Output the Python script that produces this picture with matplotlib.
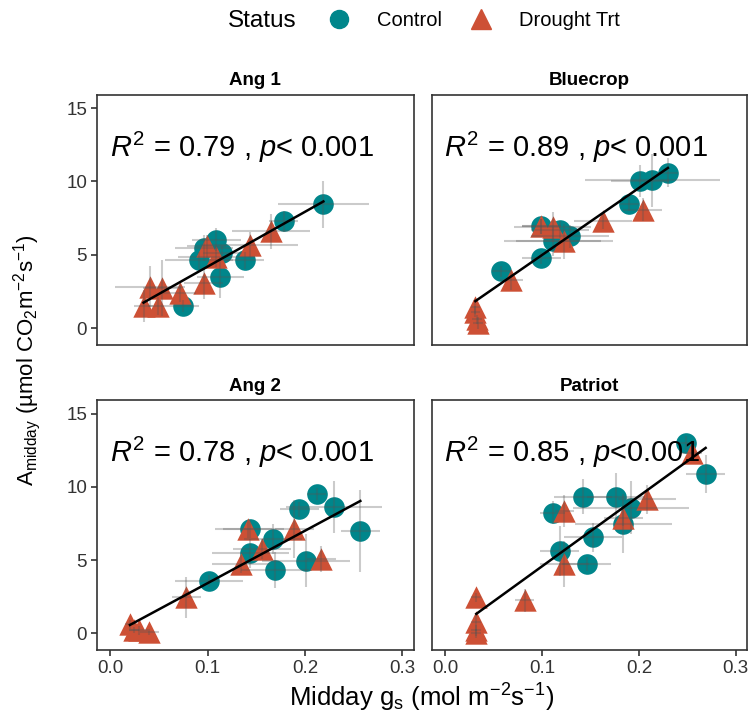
import matplotlib
matplotlib.use("Agg")
import matplotlib.pyplot as plt
from matplotlib.lines import Line2D
import numpy as np

plt.rcParams['font.family'] = ['Liberation Sans', 'DejaVu Sans']
plt.rcParams['mathtext.fontset'] = 'custom'
plt.rcParams['mathtext.rm'] = 'Liberation Sans'
plt.rcParams['mathtext.it'] = 'Liberation Sans:italic'
plt.rcParams['mathtext.bf'] = 'Liberation Sans:bold'

teal = '#00868B'
red = '#CD5035'

######## DATA ########
panels = ['Ang 1', 'Bluecrop', 'Ang 2', 'Patriot']
stats = ['$R^2$ = 0.79 , $p$< 0.001', '$R^2$ = 0.89 , $p$< 0.001',
         '$R^2$ = 0.78 , $p$< 0.001', '$R^2$ = 0.85 , $p$<0.001']

# Ang 1
ang1_ctl_x = [0.219, 0.178, 0.109, 0.096, 0.115, 0.091, 0.138, 0.113, 0.075]
ang1_ctl_y = [8.45, 7.28, 6.03, 5.46, 5.12, 4.61, 4.61, 3.45, 1.51]
ang1_ctl_xe = [0.047, 0.015, 0.025, 0.03, 0.02, 0.035, 0.02, 0.024, 0.016]
ang1_ctl_ye = [1.6, 0.7, 0.8, 0.9, 0.5, 0.6, 0.6, 1.4, 0.4]
ang1_dr_x = [0.165, 0.143, 0.099, 0.109, 0.096, 0.071, 0.041, 0.053, 0.034, 0.049]
ang1_dr_y = [6.6, 5.68, 5.57, 4.88, 3.06, 2.38, 2.83, 2.72, 1.51, 1.51]
ang1_dr_xe = [0.04, 0.05, 0.02, 0.04, 0.02, 0.017, 0.036, 0.02, 0.01, 0.01]
ang1_dr_ye = [1.2, 0.9, 0.8, 0.7, 1.1, 0.6, 1.4, 1.9, 1.1, 0.6]

# Bluecrop
blue_ctl_x = [0.230, 0.214, 0.201, 0.190, 0.118, 0.099, 0.129, 0.111, 0.099, 0.058]
blue_ctl_y = [10.6, 10.09, 10.02, 8.49, 6.71, 6.94, 6.26, 5.91, 4.77, 3.86]
blue_ctl_xe = [0.01, 0.07, 0.03, 0.01, 0.03, 0.02, 0.04, 0.05, 0.02, 0.01]
blue_ctl_ye = [1.0, 1.8, 1.1, 0.5, 0.6, 0.5, 0.8, 1.0, 0.4, 0.4]
blue_dr_x = [0.204, 0.163, 0.099, 0.111, 0.123, 0.068, 0.031, 0.031, 0.034, 0.033]
blue_dr_y = [8.08, 7.28, 6.94, 6.9, 5.91, 3.29, 1.46, 1.12, 0.32, 0.6]
blue_dr_xe = [0.02, 0.03, 0.02, 0.04, 0.05, 0.012, 0.005, 0.005, 0.005, 0.005]
blue_dr_ye = [0.8, 0.5, 0.5, 1.0, 1.2, 0.7, 0.5, 0.4, 0.4, 0.3]

# Ang 2
ang2_ctl_x = [0.212, 0.194, 0.230, 0.257, 0.143, 0.167, 0.144, 0.201, 0.169, 0.101]
ang2_ctl_y = [9.52, 8.46, 8.62, 6.99, 7.11, 6.43, 5.45, 4.96, 4.32, 3.55]
ang2_ctl_xe = [0.01, 0.02, 0.049, 0.02, 0.035, 0.03, 0.04, 0.045, 0.035, 0.035]
ang2_ctl_ye = [0.4, 0.5, 1.75, 2.8, 0.6, 1.0, 1.0, 1.8, 1.2, 0.4]
ang2_dr_x = [0.141, 0.189, 0.156, 0.134, 0.217, 0.078, 0.020, 0.029, 0.040, 0.024]
ang2_dr_y = [7.11, 7.11, 5.75, 4.73, 5.07, 2.46, 0.61, 0.2, 0.09, 0.2]
ang2_dr_xe = [0.025, 0.02, 0.03, 0.03, 0.015, 0.015, 0.005, 0.01, 0.01, 0.005]
ang2_dr_ye = [0.6, 2.0, 0.7, 0.6, 0.9, 1.4, 0.3, 0.3, 0.2, 0.2]

# Patriot
pat_ctl_x = [0.249, 0.269, 0.142, 0.176, 0.192, 0.111, 0.184, 0.153, 0.118, 0.146]
pat_ctl_y = [12.99, 10.88, 9.32, 9.32, 8.58, 8.24, 7.49, 6.54, 5.63, 4.73]
pat_ctl_xe = [0.01, 0.02, 0.03, 0.03, 0.06, 0.013, 0.05, 0.03, 0.02, 0.025]
pat_ctl_ye = [0.5, 1.3, 1.2, 1.6, 1.8, 0.8, 2.0, 1.0, 1.7, 0.5]
pat_dr_x = [0.255, 0.208, 0.123, 0.184, 0.123, 0.082, 0.032, 0.032, 0.032, 0.032]
pat_dr_y = [12.31, 9.14, 8.35, 7.9, 4.73, 2.24, 2.46, 0.77, 0.2, 0.0]
pat_dr_xe = [0.01, 0.03, 0.01, 0.02, 0.025, 0.01, 0.005, 0.005, 0.005, 0.005]
pat_dr_ye = [0.5, 1.0, 1.1, 0.6, 1.6, 0.8, 0.3, 0.6, 0.4, 0.3]

data = [
    (ang1_ctl_x, ang1_ctl_y, ang1_ctl_xe, ang1_ctl_ye, ang1_dr_x, ang1_dr_y, ang1_dr_xe, ang1_dr_ye),
    (blue_ctl_x, blue_ctl_y, blue_ctl_xe, blue_ctl_ye, blue_dr_x, blue_dr_y, blue_dr_xe, blue_dr_ye),
    (ang2_ctl_x, ang2_ctl_y, ang2_ctl_xe, ang2_ctl_ye, ang2_dr_x, ang2_dr_y, ang2_dr_xe, ang2_dr_ye),
    (pat_ctl_x, pat_ctl_y, pat_ctl_xe, pat_ctl_ye, pat_dr_x, pat_dr_y, pat_dr_xe, pat_dr_ye),
]

######## FIGURE ########
fig = plt.figure(figsize=(7.51, 7.2), dpi=100)
rects = [
    [0.129, 0.521, 0.422, 0.347],
    [0.575, 0.521, 0.420, 0.347],
    [0.129, 0.097, 0.422, 0.347],
    [0.575, 0.097, 0.420, 0.347],
]

for k in range(4):
    ax = fig.add_axes(rects[k])
    cx, cy, cxe, cye, dx, dy, dxe, dye = data[k]

    ax.scatter(cx, cy, s=220, marker='o', color=teal, zorder=2, linewidths=0)
    ax.scatter(dx, dy, s=260, marker='^', color=red, zorder=2, linewidths=0)
    ax.errorbar(cx, cy, xerr=cxe, yerr=cye, fmt='none', ecolor='#555555',
                alpha=0.3, elinewidth=1.5, zorder=3)
    ax.errorbar(dx, dy, xerr=dxe, yerr=dye, fmt='none', ecolor='#555555',
                alpha=0.3, elinewidth=1.5, zorder=3)

    # linear fit
    allx = np.array(cx + dx)
    ally = np.array(cy + dy)
    b, a = np.polyfit(allx, ally, 1)
    xs = np.array([allx.min(), allx.max()])
    ax.plot(xs, a + b * xs, color='black', lw=1.8, zorder=4)

    ax.text(0.04, 0.79, stats[k], transform=ax.transAxes, fontsize=21,
            va='center', ha='left')
    ax.set_title(panels[k], fontsize=13.5, fontweight='bold', pad=7)

    ax.set_xlim(-0.014, 0.312)
    ax.set_ylim(-1.15, 15.9)
    ax.set_xticks([0.0, 0.1, 0.2, 0.3])
    ax.set_yticks([0, 5, 10, 15])
    ax.tick_params(colors='#333333', labelsize=13.5, length=4, width=1.2,
                   pad=3)
    for sp in ax.spines.values():
        sp.set_color('#333333')
        sp.set_linewidth(1.2)
    if k < 2:
        ax.set_xticklabels([])
        ax.tick_params(axis='x', length=0)
    else:
        ax.set_xticklabels(['0.0', '0.1', '0.2', '0.3'])
    if k % 2 == 1:
        ax.set_yticklabels([])
        ax.tick_params(axis='y', length=0)

fig.text(0.562, 0.03, 'Midday g$_\\mathrm{s}$ (mol m$^{-2}$s$^{-1}$)',
         ha='center', va='center', fontsize=18.5)
fig.text(0.036, 0.5, 'A$_\\mathrm{midday}$ (µmol CO$_2$m$^{-2}$s$^{-1}$)',
         ha='center', va='center', rotation=90, fontsize=16)

# legend
fig.text(0.349, 0.971, 'Status', ha='center', va='center', fontsize=17.5)
handles = [
    Line2D([], [], marker='o', color=teal, linestyle='none', markersize=13),
    Line2D([], [], marker='^', color=red, linestyle='none', markersize=14),
]
fig.legend(handles, ['Control', 'Drought Trt'], loc='center',
           bbox_to_anchor=(0.625, 0.971), ncol=2, frameon=False, fontsize=14.5,
           handletextpad=0.9, columnspacing=0.9)

fig.savefig('out.png', dpi=100)
